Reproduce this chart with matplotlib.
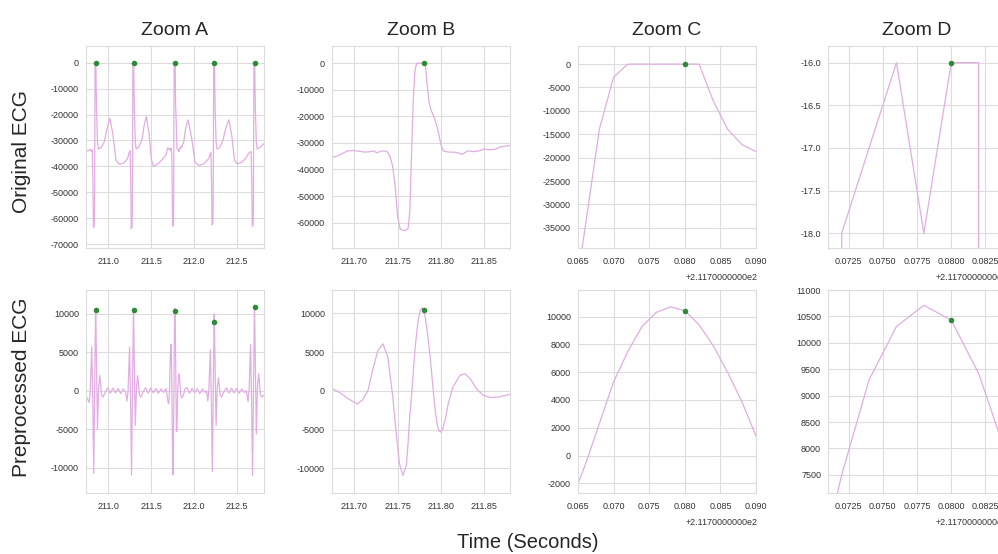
import numpy as np
import matplotlib.pyplot as plt
import seaborn as sns
from matplotlib.ticker import MultipleLocator, FuncFormatter

# ECG signal (time in seconds)
orig_time = [
    210.740, 210.765, 210.790, 210.803, 210.814,
    # beat 1
    210.821, 210.827, 210.836, 210.840, 210.842, 210.844, 210.846, 210.848,
    210.854, 210.856, 210.858, 210.864, 210.874, 210.884, 210.914, 210.954,
    210.984, 211.020, 211.056, 211.090, 211.130, 211.185, 211.225, 211.245,
    211.256,
    # beat 2
    211.263, 211.269, 211.278, 211.282, 211.284, 211.286, 211.288, 211.290,
    211.296, 211.298, 211.300, 211.306, 211.316, 211.326, 211.356, 211.396,
    211.420, 211.445, 211.475, 211.505, 211.530, 211.580, 211.630, 211.674,
    # beat 3 (zoomed one)
    211.680, 211.686, 211.692, 211.700, 211.706, 211.712, 211.718, 211.722,
    211.726, 211.730, 211.734, 211.738, 211.741, 211.744, 211.747, 211.750,
    211.753, 211.758, 211.762, 211.764, 211.766, 211.768, 211.770, 211.772,
    211.774, 211.776, 211.778, 211.780, 211.782, 211.784, 211.786, 211.788,
    211.790, 211.792, 211.794, 211.796, 211.798, 211.800, 211.802, 211.804,
    211.810, 211.816, 211.820, 211.825, 211.831, 211.838, 211.845, 211.850,
    211.856, 211.862, 211.869, 211.875, 211.880, 211.905, 211.934, 211.974,
    212.012, 212.058, 212.115, 212.173, 212.200,
    # beat 4
    212.207, 212.213, 212.222, 212.226, 212.228, 212.230, 212.232, 212.234,
    212.240, 212.242, 212.244, 212.250, 212.260, 212.270, 212.300, 212.340,
    212.375, 212.410, 212.445, 212.475, 212.505, 212.555, 212.600, 212.650,
    212.670,
    # beat 5
    212.677, 212.683, 212.692, 212.696, 212.698, 212.700, 212.702, 212.704,
    212.710, 212.712, 212.714, 212.720, 212.730, 212.740, 212.780, 212.800,
    212.825,
]
orig_ecg = [
    -33800, -34000, -33400, -34300, -33600,
    -46000, -63500, -63000, -56000, -35000, -13900, -2800, -18,
    -16, -16, -7900, -18800, -30500, -33300, -32800, -30500,
    -25500, -21500, -28000, -37500, -39200, -38600, -37000, -34600,
    -34000,
    -46000, -64000, -63300, -56000, -35000, -13900, -2800, -18,
    -16, -16, -7900, -18800, -30500, -33300, -32500, -29500,
    -24000, -20800, -27000, -37500, -40000, -39000, -37300, -35500,
    -35000, -34000, -33000, -32900, -33200, -33500, -33300, -33000,
    -33800, -33200, -33000, -33400, -35000, -38500, -46000, -58000,
    -62500, -63000, -62300, -56000, -35000, -13900, -2800, -18,
    -17, -16, -18, -16, -16, -7900, -13900, -17200,
    -18700, -20300, -22200, -24500, -27500, -30500, -32500, -33200,
    -33500, -33500, -33800, -34300, -33000, -33300, -33000, -32300,
    -32600, -32500, -31500, -31200, -31000, -25200, -22100, -28900,
    -38300, -39600, -39000, -37000, -34600,
    -46000, -62500, -62000, -56000, -35000, -13900, -2800, -18,
    -16, -16, -7900, -18800, -30500, -33300, -32800, -30000,
    -25000, -22000, -28500, -37500, -39000, -38500, -37100, -34600,
    -34300,
    -46000, -63000, -62500, -56000, -35000, -13900, -2800, -18,
    -16, -16, -7900, -18800, -30500, -33300, -32500, -31800,
    -31000,
]

prep_time = [
    210.740, 210.750,
    # beat 1
    210.7775, 210.7897, 210.807, 210.8184, 210.830, 210.840, 210.852, 210.854,
    210.862, 210.874, 210.888, 210.902, 210.923, 210.940, 210.964, 210.994,
    211.024, 211.054, 211.084, 211.114, 211.144, 211.174, 211.204,
    # beat 2
    211.2195, 211.2317, 211.249, 211.2604, 211.272, 211.282, 211.294, 211.296,
    211.304, 211.316, 211.330, 211.344, 211.365, 211.382, 211.406, 211.436,
    211.466, 211.496, 211.526, 211.556, 211.586, 211.616, 211.646,
    # beat 3 (zoomed one)
    211.674, 211.682, 211.6925, 211.7035, 211.7097, 211.7157, 211.721, 211.727,
    211.733, 211.7386, 211.7444, 211.7483, 211.752, 211.756, 211.760, 211.762,
    211.764, 211.766, 211.768, 211.770, 211.772, 211.774, 211.776, 211.778,
    211.780, 211.782, 211.784, 211.786, 211.788, 211.790, 211.792, 211.794,
    211.796, 211.798, 211.800, 211.802, 211.805, 211.8085, 211.814, 211.822,
    211.828, 211.834, 211.841, 211.849, 211.858, 211.866, 211.880, 211.900,
    211.920, 211.950, 211.980, 212.010, 212.040, 212.070, 212.100, 212.130,
    212.150,
    # beat 4
    212.1635, 212.1757, 212.193, 212.2044, 212.216, 212.226, 212.238, 212.240,
    212.248, 212.260, 212.274, 212.288, 212.309, 212.326, 212.350, 212.380,
    212.410, 212.440, 212.470, 212.500, 212.530, 212.560, 212.590, 212.615,
    # beat 5
    212.6335, 212.6457, 212.663, 212.6744, 212.686, 212.696, 212.708, 212.710,
    212.718, 212.730, 212.744, 212.758, 212.779, 212.796, 212.825,
]
prep_ecg = [
    -500, -900,
    -1500, 70, 5700, -800, -10700, -900, 10650, 10450,
    3900, -5000, 500, 2000, -570, -800, -150, 400,
    -300, 350, -250, 300, -350, 250, -200,
    -1300, 70, 5700, -800, -10900, -900, 10700, 10550,
    3900, -4500, 500, 2000, -570, -800, -150, 400,
    -300, 350, -250, 300, -300, 250, -200,
    300, -150, -1000, -1700, -1100, 70, 2640, 5200,
    6060, 4350, -800, -5500, -9350, -10900, -9600, -6800,
    -3300, -700, 2300, 5300, 7500, 9300, 10310, 10710,
    10430, 9420, 7900, 6000, 3900, 1400, -1000, -3000,
    -4500, -5200, -5300, -4900, -3700, -1640, 500, 2000,
    2200, 1570, 300, -570, -870, -800, -450, 300,
    400, -300, 350, -250, 300, -350, 250, -200,
    0,
    -1300, 70, 5300, -800, -10500, -900, 10000, 8900,
    3500, -4500, 500, 1700, -570, -800, -150, 400,
    -300, 350, -250, 300, -300, 250, -200, 0,
    -1400, 70, 6000, -800, -11000, -900, 11000, 10860,
    4000, -5600, 500, 2200, -570, -800, -500,
]

# detected R peaks
peak_time = [210.854, 211.296, 211.780, 212.240, 212.710]
peak_orig = [-16, -16, -16, -16, -16]
peak_prep = [10450, 10550, 10430, 8900, 10860]

titles = ["Zoom A", "Zoom B", "Zoom C", "Zoom D"]
row_labels = ["Original ECG", "Preprocessed ECG"]

OFFSET = 211.7
x_windows = [(210.74, 212.82), (211.674, 211.880), (211.765, 211.790), (211.771, 211.784)]
x_steps = [0.5, 0.05, 0.005, 0.0025]
x_fmt = ["{:.1f}", "{:.2f}", "{:.3f}", "{:.4f}"]
y_windows = [
    [(-71600, 6200), (-69750, 6250), (-39400, 3740), (-18.18, -15.81)],
    [(-13300, 13100), (-13200, 13000), (-2720, 11920), (7150, 11000)],
]
y_steps = [[10000, 10000, 5000, 0.5], [5000, 5000, 2000, 500]]

LINE_COLOR = "#e2ade2"
DOT_COLOR = "#2e8b35"
GRID_COLOR = "#dcdcdc"

sns.set_style("whitegrid")
plt.rcParams["font.family"] = ["Liberation Sans", "DejaVu Sans"]
plt.rcParams["axes.unicode_minus"] = False

W, H = 998, 554
fig = plt.figure(figsize=(W / 100, H / 100), dpi=100)

col_left = [86, 332, 578, 828]
col_width = 178
row_top = [46.5, 290]
row_height = [202, 203.3]

series = [(orig_time, orig_ecg, peak_orig), (prep_time, prep_ecg, peak_prep)]

for r in range(2):
    t, v, pk = series[r]
    for c in range(4):
        ax = fig.add_axes([col_left[c] / W, 1 - (row_top[r] + row_height[r]) / H,
                           col_width / W, row_height[r] / H])
        ax.plot(t, v, color=LINE_COLOR, lw=0.9, zorder=2)
        ax.scatter(peak_time, pk, color=DOT_COLOR, s=16, zorder=3, linewidths=0)
        ax.set_xlim(*x_windows[c])
        ax.set_ylim(*y_windows[r][c])
        ax.xaxis.set_major_locator(MultipleLocator(x_steps[c]))
        ax.yaxis.set_major_locator(MultipleLocator(y_steps[r][c]))
        fmt = x_fmt[c]
        if c >= 2:
            # offset axes, like matplotlib's own offset text
            ax.xaxis.set_major_formatter(FuncFormatter(lambda x, p, f=fmt: f.format(x - OFFSET)))
            ax.annotate("+2.1170000000e2", xy=(1, 0), xycoords="axes fraction",
                        xytext=(-51, -21), textcoords="offset points",
                        ha="left", va="center", fontsize=6.5, color="#333333",
                        annotation_clip=False)
        else:
            ax.xaxis.set_major_formatter(FuncFormatter(lambda x, p, f=fmt: f.format(x)))
        ax.tick_params(axis="x", length=0, pad=6, labelsize=6.5, labelcolor="#333333")
        ax.tick_params(axis="y", length=0, pad=5, labelsize=6.5, labelcolor="#333333")
        ax.grid(True, color=GRID_COLOR, lw=0.8)
        for s in ax.spines.values():
            s.set_color(GRID_COLOR)
            s.set_linewidth(0.8)
        if r == 0:
            ax.set_title(titles[c], fontsize=14, pad=8)

fig.text(22 / W, 1 - 152 / H, row_labels[0], rotation=90, ha="center", va="center", fontsize=15)
fig.text(22 / W, 1 - 387 / H, row_labels[1], rotation=90, ha="center", va="center", fontsize=15)
fig.text(528 / W, 1 - 548 / H, "Time (Seconds)", ha="center", va="baseline", fontsize=14.5)

fig.savefig("out.png", dpi=100)
